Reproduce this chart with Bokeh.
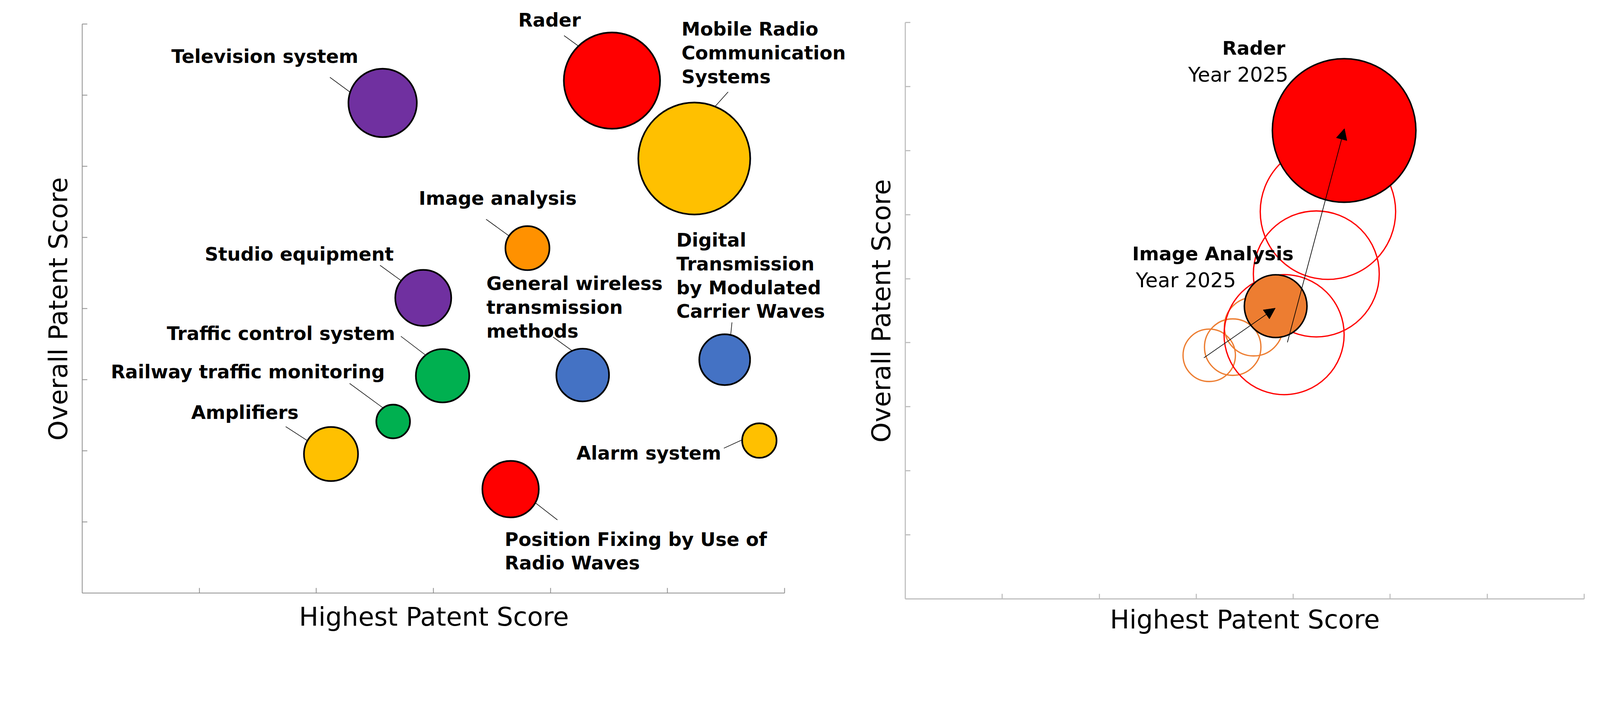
from bokeh.plotting import figure
from bokeh.models import ColumnDataSource, FixedTicker, Range1d, Arrow, NormalHead, Title, LabelSet
from bokeh.layouts import row
from bokeh.core.properties import value
from bokeh.embed import file_html
from bokeh.resources import INLINE

# ---- left chart: patent fields ----
fields = ["Television system", "Rader", "Mobile Radio\nCommunication\nSystems", "Image analysis",
          "Studio equipment", "General wireless\ntransmission\nmethods",
          "Digital\nTransmission\nby Modulated\nCarrier Waves", "Traffic control system",
          "Railway traffic monitoring", "Amplifiers", "Alarm system",
          "Position Fixing by Use of\nRadio Waves"]
highest = [2.566, 4.525, 5.228, 3.803, 2.913, 4.275, 5.488, 3.078, 2.656, 2.125, 5.784, 3.659]
overall = [6.893, 7.207, 6.111, 4.851, 4.151, 3.066, 3.282, 3.056, 2.413, 1.955, 2.145, 1.461]
bubble = [0.292, 0.411, 0.478, 0.188, 0.239, 0.225, 0.217, 0.228, 0.144, 0.231, 0.147, 0.241]
colors = ["#7030A0", "#FF0000", "#FFC000", "#FF9100", "#7030A0", "#4472C4",
          "#4472C4", "#00B050", "#00B050", "#FFC000", "#FFC000", "#FF0000"]

# label anchors (first line baseline) and leader lines
label_x = [0.762, 3.725, 5.119, 2.875, 1.047, 3.453, 5.075, 0.722, 0.244, 0.931, 4.222, 3.609]
label_y = [7.455, 7.965, 7.840, 5.460, 4.677, 4.260, 4.872, 3.561, 3.020, 2.449, 1.878, 0.664]
lead_x0 = [2.116, 4.116, 5.517, 3.450, 2.544, 4.022, 5.550, 2.722, 2.284, 1.738, 5.481, 3.797]
lead_y0 = [7.253, 7.840, 7.047, 5.257, 4.609, 3.601, 3.807, 3.611, 2.948, 2.341, 2.037, 1.363]
lead_x1 = [2.413, 4.413, 5.281, 3.747, 2.841, 4.308, 5.525, 3.009, 2.566, 1.975, 5.741, 4.059]
lead_y1 = [6.893, 7.485, 6.615, 4.902, 4.254, 3.261, 3.395, 3.251, 2.608, 2.088, 2.233, 1.029]
line_step = 0.334  # spacing of wrapped label lines, in y units

# ---- right chart: movement of two fields towards 2025 ----
rader_past_x = [4.358, 4.238, 3.906]
rader_past_y = [6.046, 5.074, 4.126]
rader_past_r = [0.698, 0.649, 0.619]
rader_now = (4.525, 7.314, 0.740)
image_past_x = [3.592, 3.376, 3.134]
image_past_y = [4.251, 3.931, 3.803]
image_past_r = [0.302, 0.291, 0.270]
image_now = (3.819, 4.571, 0.323)
arrow_x0 = [3.940, 3.079]
arrow_y0 = [4.006, 3.764]
arrow_x1 = [4.528, 3.815]
arrow_y1 = [7.343, 4.539]
right_labels = ["Rader", "Year 2025", "Image Analysis", "Year 2025"]
right_label_x = [3.268, 2.917, 2.340, 2.377]
right_label_y = [8.495, 8.078, 5.289, 4.866]
right_label_style = ["bold", "normal", "bold", "normal"]

FONT = "DejaVu Sans"
X_TITLE = "Highest Patent Score"
Y_TITLE = "Overall Patent Score"


def style_axes(p, xmax, ymax, color, width, x_off, y_off, x_stand, y_stand):
    for ax in (p.xaxis[0], p.yaxis[0]):
        ax.axis_line_color = color
        ax.axis_line_width = width
        ax.major_tick_line_color = color
        ax.major_tick_line_width = width
        ax.major_tick_in = 13
        ax.major_tick_out = 0
        ax.minor_tick_line_color = None
        ax.major_label_text_font_size = "0px"
        ax.major_label_text_color = None
        ax.major_label_standoff = 0
    p.xaxis.ticker = FixedTicker(ticks=list(range(1, xmax + 1)))
    p.yaxis.ticker = FixedTicker(ticks=list(range(1, ymax + 1)))
    p.xaxis.bounds = (0, xmax)
    p.yaxis.bounds = (0, ymax)
    p.xgrid.visible = False
    p.ygrid.visible = False
    p.outline_line_color = None
    # axis titles, centred on the bounded axes
    p.add_layout(Title(text=X_TITLE, align="left", offset=x_off, vertical_align="top",
                       standoff=x_stand, text_font=FONT, text_font_size="66px",
                       text_font_style="normal", text_color="black"), "below")
    p.add_layout(Title(text=Y_TITLE, align="left", offset=y_off, vertical_align="bottom",
                       standoff=y_stand, text_font=FONT, text_font_size="66px",
                       text_font_style="normal", text_color="black"), "left")


def add_labels(p, xs, ys, texts, style, size):
    s = ColumnDataSource(dict(x=xs, y=ys, t=texts))
    p.add_layout(LabelSet(x="x", y="y", text="t", source=s, text_font=value(FONT),
                          text_font_style=style, text_font_size=size, text_align="left",
                          text_baseline="alphabetic", text_color="black"))


# left figure: frame is a little larger than the axes so the labels fit
p1 = figure(output_backend="svg", toolbar_location=None, title=None,
            frame_width=1966, frame_height=1493,
            min_border_left=210, min_border_right=0, min_border_top=24, min_border_bottom=163,
            x_range=Range1d(0, 6.56), y_range=Range1d(0, 8.206))
style_axes(p1, 6, 8, "#8c8c8c", 2, 555, 390, 44, 46)

src = ColumnDataSource(dict(x=highest, y=overall, r=bubble, c=colors,
                            x0=lead_x0, y0=lead_y0, x1=lead_x1, y1=lead_y1))
p1.segment("x0", "y0", "x1", "y1", source=src, line_color="black", line_width=1.5)
p1.circle("x", "y", radius="r", source=src, fill_color="c", line_color="black", line_width=4.2)

tx, ty, tt = [], [], []
for name, lx, ly in zip(fields, label_x, label_y):
    for i, part in enumerate(name.split("\n")):
        tx.append(lx)
        ty.append(ly - i * line_step)
        tt.append(part)
add_labels(p1, tx, ty, tt, "bold", "48px")

# right figure
p2 = figure(output_backend="svg", toolbar_location=None, title=None,
            frame_width=1738, frame_height=1508,
            min_border_left=141, min_border_right=30, min_border_top=24, min_border_bottom=148,
            x_range=Range1d(0, 7), y_range=Range1d(0, 9.201))
style_axes(p2, 7, 9, "#bfbfbf", 2.8, 524, 400, 29, 46)

p2.circle(image_past_x, image_past_y, radius=image_past_r, fill_color=None,
          line_color="#ED7D31", line_width=3.3)
p2.circle(rader_past_x, rader_past_y, radius=rader_past_r, fill_color=None,
          line_color="#FF0000", line_width=3.3)
p2.circle([image_now[0]], [image_now[1]], radius=[image_now[2]], fill_color="#ED7D31",
          line_color="black", line_width=3.8)
p2.circle([rader_now[0]], [rader_now[1]], radius=[rader_now[2]], fill_color="#FF0000",
          line_color="black", line_width=3.8)

arrows = ColumnDataSource(dict(x0=arrow_x0, y0=arrow_y0, x1=arrow_x1, y1=arrow_y1))
p2.add_layout(Arrow(x_start="x0", y_start="y0", x_end="x1", y_end="y1", source=arrows,
                    line_color="black", line_width=1.7,
                    end=NormalHead(size=28, fill_color="black", line_color="black")))

for style, size in (("bold", "48.5px"), ("normal", "51.5px")):
    idx = [i for i, s in enumerate(right_label_style) if s == style]
    add_labels(p2, [right_label_x[i] for i in idx], [right_label_y[i] for i in idx],
               [right_labels[i] for i in idx], style, size)

layout = row(p1, p2)
open("out.html", "w").write(file_html(layout, INLINE))
